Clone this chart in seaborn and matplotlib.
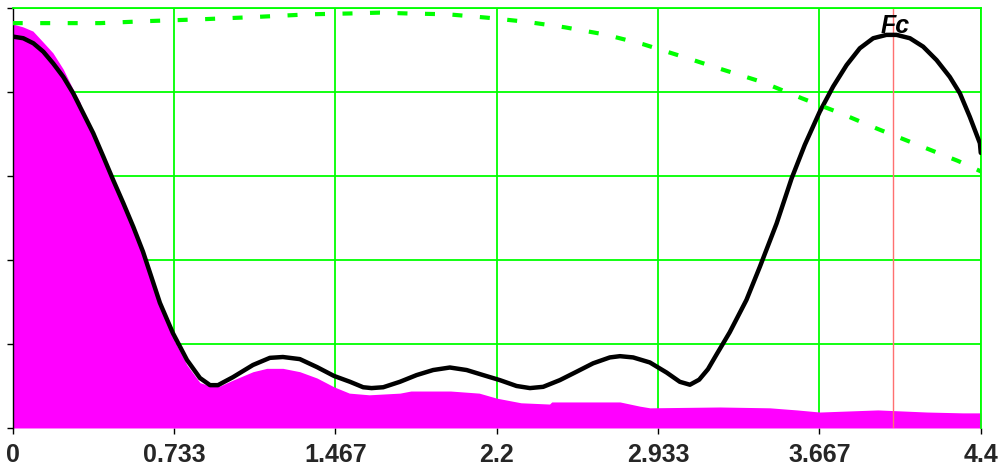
import matplotlib
matplotlib.use("Agg")
import matplotlib.pyplot as plt
import seaborn as sns

# Spectrum (filled area), response curve (black) and envelope (green dashed)
mag_x = [0, 0.047, 0.092, 0.138, 0.183, 0.229, 0.274, 0.306, 0.321, 0.366, 0.412,
         0.457, 0.503, 0.548, 0.592, 0.630, 0.669, 0.728, 0.792, 0.851, 0.897, 0.942,
         1.001, 1.092, 1.155, 1.228, 1.305, 1.383, 1.46, 1.53, 1.62, 1.76, 1.81,
         1.99, 2.12, 2.20, 2.31, 2.44, 2.45, 2.76, 2.85, 2.896, 3.214, 3.441, 3.564,
         3.668, 3.932, 4.155, 4.318, 4.4]
mag_y = [0.962, 0.955, 0.945, 0.919, 0.893, 0.855, 0.807, 0.776, 0.750, 0.700, 0.643,
         0.586, 0.530, 0.474, 0.414, 0.352, 0.290, 0.215, 0.150, 0.108, 0.100, 0.100,
         0.114, 0.134, 0.142, 0.142, 0.134, 0.119, 0.098, 0.083, 0.079, 0.083, 0.088,
         0.088, 0.083, 0.071, 0.060, 0.057, 0.062, 0.062, 0.052, 0.048, 0.050, 0.048,
         0.043, 0.038, 0.043, 0.038, 0.036, 0.036]

black_x = [0, 0.048, 0.094, 0.139, 0.184, 0.230, 0.275, 0.321, 0.366, 0.412, 0.457,
           0.503, 0.548, 0.592, 0.630, 0.669, 0.728, 0.792, 0.851, 0.897, 0.933, 1.001,
           1.092, 1.169, 1.228, 1.305, 1.383, 1.46, 1.533, 1.593, 1.631, 1.684, 1.760,
           1.836, 1.911, 1.987, 2.063, 2.138, 2.214, 2.290, 2.351, 2.411, 2.487, 2.563,
           2.638, 2.714, 2.760, 2.820, 2.896, 2.972, 3.032, 3.078, 3.120, 3.160, 3.199,
           3.259, 3.335, 3.396, 3.472, 3.540, 3.600, 3.668, 3.729, 3.790, 3.850, 3.911,
           3.971, 4.017, 4.078, 4.138, 4.199, 4.259, 4.305, 4.350, 4.396, 4.4]
black_y = [0.932, 0.928, 0.916, 0.896, 0.868, 0.836, 0.797, 0.749, 0.702, 0.646, 0.590,
           0.535, 0.479, 0.420, 0.360, 0.298, 0.226, 0.162, 0.119, 0.102, 0.102, 0.121,
           0.150, 0.167, 0.169, 0.164, 0.145, 0.124, 0.110, 0.097, 0.095, 0.097, 0.110,
           0.126, 0.138, 0.144, 0.138, 0.126, 0.114, 0.100, 0.095, 0.098, 0.114, 0.134,
           0.154, 0.168, 0.171, 0.168, 0.156, 0.132, 0.110, 0.103, 0.115, 0.140, 0.175,
           0.228, 0.305, 0.384, 0.487, 0.594, 0.674, 0.753, 0.813, 0.864, 0.904, 0.928,
           0.936, 0.936, 0.928, 0.908, 0.876, 0.836, 0.797, 0.741, 0.678, 0.655]

green_x = [0, 0.397, 0.624, 0.851, 1.078, 1.351, 1.533, 1.669, 1.796, 1.978, 2.155,
           2.337, 2.510, 2.691, 2.864, 3.046, 3.223, 3.405, 3.587, 3.760, 3.932, 4.114,
           4.296, 4.4]
green_y = [0.964, 0.964, 0.969, 0.973, 0.978, 0.985, 0.987, 0.989, 0.987, 0.985, 0.977,
           0.967, 0.954, 0.937, 0.914, 0.884, 0.854, 0.824, 0.785, 0.750, 0.712, 0.674,
           0.636, 0.611]

fc = 4.0
x_ticks = [0, 4.4 / 6, 8.8 / 6, 2.2, 17.6 / 6, 22 / 6, 4.4]
x_labels = ["0", "0.733", "1.467", "2.2", "2.933", "3.667", "4.4"]
y_ticks = [0, 0.2, 0.4, 0.6, 0.8, 1.0]

sns.set_theme(style="white")
plt.rcParams["font.family"] = ["Liberation Sans", "DejaVu Sans"]

fig = plt.figure(figsize=(10.08, 4.68), dpi=100)
ax = fig.add_axes([0.0126, 0.0855, 0.9604, 0.8974])

ax.fill_between(mag_x, mag_y, 0, color="#ff00ff", lw=0, zorder=1)
ax.axvline(fc, color="#ff7070", lw=1.0, zorder=2)
sns.lineplot(x=black_x, y=black_y, color="black", lw=3.2, sort=False,
             estimator=None, ax=ax, zorder=3)
sns.lineplot(x=green_x, y=green_y, color="#00ff00", lw=3.0, sort=False,
             estimator=None, ax=ax, zorder=4, linestyle=(0, (2.4, 4.2)))
ax.text(fc + 0.01, 0.94, "Fc", ha="center", va="baseline", fontsize=18,
        fontweight="heavy", fontstyle="italic", color="black", zorder=6)

ax.set_xlim(0, 4.4)
ax.set_ylim(0, 1)
ax.set_xticks(x_ticks)
ax.set_xticklabels(x_labels, fontsize=18, fontweight="bold")
ax.set_yticks(y_ticks)
ax.set_yticklabels([])
ax.set_xlabel("")
ax.set_ylabel("")

ax.grid(True, color="#00ff00", lw=1.3, zorder=0)
ax.set_axisbelow(True)
ax.tick_params(axis="both", direction="out", length=4, width=1, color="black",
               left=True, bottom=True)
ax.tick_params(axis="x", pad=7)

ax.spines["left"].set_color("black")
ax.spines["left"].set_linewidth(1)
ax.spines["bottom"].set_visible(False)
for s in ("top", "right"):
    ax.spines[s].set_color("#00ff00")
    ax.spines[s].set_linewidth(1.3)

fig.savefig("out.png", dpi=100)
